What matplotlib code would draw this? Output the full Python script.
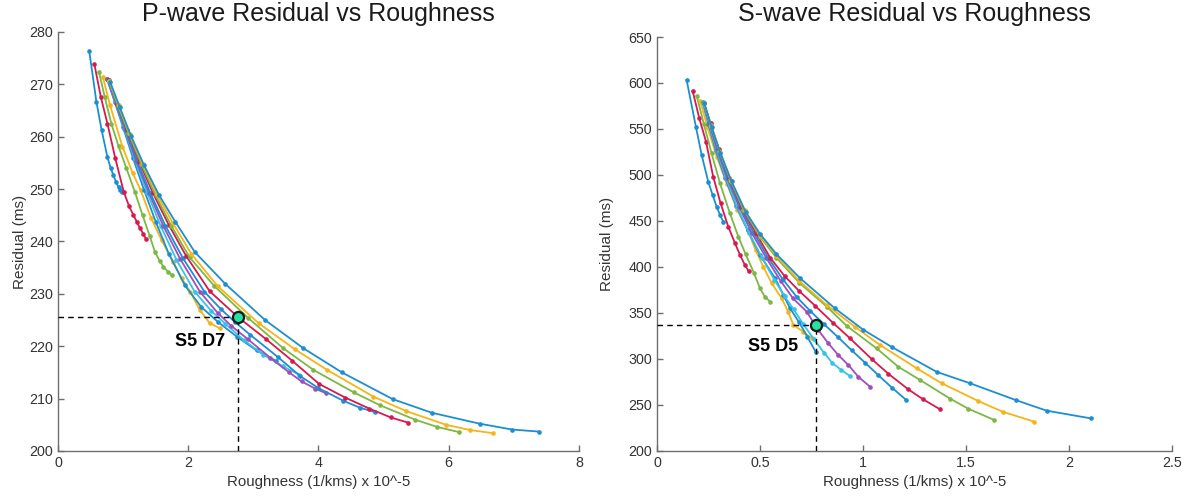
import matplotlib
matplotlib.use("Agg")
import matplotlib.pyplot as plt

plt.rcParams['font.family'] = ['Liberation Sans', 'DejaVu Sans']

curve_colors = ['#1b8fd2', '#d8194f', '#7cb843', '#f6b418', '#1b8fd2', '#36c3ea',
                '#a44cbc', '#1b8fd2', '#d8194f', '#7cb843', '#f6b418', '#1b8fd2']

# P-wave L-curves: roughness (x 10^-5) and residual (ms)
p_rough = [
    [0.48, 0.59, 0.67, 0.76, 0.81, 0.85, 0.89, 0.93, 0.96, 0.99],
    [0.56, 0.66, 0.76, 0.88, 1.01, 1.09, 1.16, 1.21, 1.26, 1.31, 1.35],
    [0.63, 0.72, 0.82, 0.93, 1.05, 1.18, 1.3, 1.41, 1.49, 1.56, 1.62, 1.69, 1.75],
    [0.69, 0.8, 0.99, 1.15, 1.27, 1.43, 1.59, 1.77, 1.9, 2.03, 2.18, 2.33, 2.49],
    [0.75, 0.87, 1.0, 1.15, 1.32, 1.5, 1.7, 1.95, 2.2, 2.46, 2.75, 3.05, 3.35],
    [0.76, 0.88, 1.02, 1.18, 1.37, 1.58, 1.82, 2.1, 2.35, 2.57, 2.85, 3.15, 3.45, 3.7],
    [0.76, 0.89, 1.03, 1.2, 1.4, 1.62, 1.88, 2.18, 2.45, 2.66, 2.92, 3.26, 3.55, 3.74, 3.95, 4.12],
    [0.77, 0.9, 1.04, 1.22, 1.42, 1.65, 1.92, 2.25, 2.5, 2.72, 2.95, 3.38, 3.72, 4.0, 4.38, 4.63, 4.87],
    [0.78, 0.91, 1.06, 1.25, 1.46, 1.7, 1.97, 2.33, 2.77, 3.2, 3.6, 4.01, 4.41, 4.78, 5.11, 5.38],
    [0.78, 0.92, 1.08, 1.28, 1.5, 1.74, 2.02, 2.4, 2.92, 3.46, 3.92, 4.54, 4.95, 5.48, 5.82, 6.16],
    [0.79, 0.93, 1.1, 1.3, 1.52, 1.76, 2.05, 2.45, 3.08, 3.64, 4.13, 4.84, 5.35, 5.96, 6.33, 6.68],
    [0.80, 0.95, 1.12, 1.32, 1.55, 1.8, 2.1, 2.57, 3.18, 3.77, 4.36, 5.14, 5.74, 6.48, 6.97, 7.39],
]
p_resid = [
    [276.4, 266.7, 261.3, 256.1, 254.0, 252.7, 251.4, 250.4, 249.8, 249.4],
    [273.8, 267.5, 262.5, 255.9, 249.5, 246.8, 245.0, 243.8, 242.5, 241.5, 240.5],
    [272.4, 267.5, 262.5, 258.2, 254.0, 249.5, 245.0, 241.0, 238.0, 236.3, 235.2, 234.2, 233.6],
    [271.4, 266.0, 258.1, 253.0, 249.8, 244.5, 240.3, 236.1, 233.0, 230.4, 226.9, 224.4, 223.4],
    [271.1, 266.7, 261.8, 256.0, 249.9, 243.8, 237.7, 231.6, 227.5, 224.6, 221.8, 219.2, 217.2],
    [271.0, 266.6, 261.5, 255.6, 249.3, 242.9, 236.5, 230.4, 226.8, 224.3, 221.2, 218.4, 216.2, 214.6],
    [271.0, 266.4, 261.4, 255.4, 249.2, 242.9, 236.6, 230.4, 226.4, 223.9, 221.3, 217.8, 215.0, 213.3, 211.9, 211.0],
    [270.9, 266.3, 261.3, 255.3, 249.2, 243.0, 236.8, 230.4, 227.1, 224.6, 222.2, 217.9, 214.3, 212.0, 209.6, 208.3, 207.4],
    [270.8, 266.3, 261.2, 255.2, 249.2, 243.2, 237.2, 230.5, 225.5, 221.3, 217.2, 212.8, 210.2, 208.1, 206.4, 205.4],
    [270.7, 266.0, 260.8, 254.8, 248.8, 243.0, 237.0, 231.5, 225.4, 219.6, 215.5, 211.2, 208.7, 206.0, 204.6, 203.6],
    [270.6, 266.0, 260.6, 254.8, 249.0, 243.6, 237.6, 231.5, 224.4, 219.4, 215.5, 210.4, 207.6, 205.0, 204.0, 203.4],
    [270.5, 265.6, 260.2, 254.6, 248.9, 243.8, 238.0, 231.9, 225.0, 219.6, 215.0, 209.9, 207.3, 205.2, 204.1, 203.7],
]

# S-wave L-curves
s_rough = [
    [0.144, 0.189, 0.217, 0.249, 0.27, 0.29, 0.306, 0.322],
    [0.173, 0.205, 0.238, 0.273, 0.309, 0.346, 0.379, 0.403, 0.427, 0.445],
    [0.193, 0.228, 0.265, 0.306, 0.354, 0.395, 0.43, 0.47, 0.5, 0.524, 0.549],
    [0.209, 0.245, 0.29, 0.34, 0.39, 0.44, 0.48, 0.516, 0.557, 0.605, 0.637, 0.662, 0.71, 0.751],
    [0.222, 0.25, 0.285, 0.33, 0.385, 0.44, 0.5, 0.573, 0.613, 0.646, 0.69, 0.73, 0.77],
    [0.224, 0.252, 0.288, 0.334, 0.39, 0.447, 0.51, 0.57, 0.62, 0.663, 0.71, 0.76, 0.81, 0.85, 0.895, 0.937],
    [0.226, 0.255, 0.292, 0.34, 0.4, 0.46, 0.53, 0.6, 0.66, 0.727, 0.783, 0.832, 0.88, 0.929, 0.977, 1.034],
    [0.227, 0.258, 0.296, 0.345, 0.405, 0.47, 0.54, 0.61, 0.68, 0.745, 0.81, 0.88, 0.945, 1.01, 1.074, 1.14, 1.21],
    [0.228, 0.26, 0.3, 0.35, 0.41, 0.48, 0.55, 0.62, 0.69, 0.767, 0.856, 0.937, 1.042, 1.123, 1.22, 1.293, 1.374],
    [0.228, 0.262, 0.303, 0.355, 0.42, 0.5, 0.58, 0.69, 0.824, 0.921, 1.066, 1.171, 1.277, 1.422, 1.511, 1.637],
    [0.229, 0.264, 0.306, 0.36, 0.425, 0.5, 0.58, 0.69, 0.824, 0.961, 1.083, 1.261, 1.382, 1.56, 1.678, 1.832],
    [0.23, 0.265, 0.308, 0.362, 0.43, 0.5, 0.58, 0.694, 0.864, 1.0, 1.14, 1.358, 1.52, 1.741, 1.892, 2.105],
]
s_resid = [
    [603.3, 552.5, 521.7, 492.7, 478.3, 465.5, 456.5, 449.2],
    [591.6, 562.0, 536.2, 498.2, 469.2, 443.8, 425.8, 413.0, 402.2, 395.5],
    [585.9, 555.0, 523.6, 491.0, 458.4, 433.0, 414.0, 394.0, 376.8, 367.7, 362.3],
    [580.8, 552.0, 520.0, 490.0, 462.0, 440.0, 418.0, 400.3, 382.3, 366.0, 351.4, 337.0, 329.7, 322.5],
    [579.0, 555.0, 527.0, 497.0, 466.0, 440.0, 413.0, 388.0, 370.0, 355.0, 340.0, 324.0, 308.0],
    [578.5, 556.0, 528.0, 497.0, 465.0, 437.0, 410.0, 386.0, 368.0, 354.0, 338.0, 322.0, 307.0, 296.0, 288.0, 281.5],
    [578.3, 556.0, 528.0, 497.0, 465.0, 437.0, 410.0, 385.0, 366.0, 351.4, 331.5, 317.0, 304.3, 293.5, 280.8, 269.9],
    [578.2, 556.0, 528.0, 497.0, 465.0, 437.0, 410.0, 387.0, 367.0, 352.0, 338.0, 323.5, 309.5, 296.0, 282.5, 269.0, 255.4],
    [578.1, 556.0, 528.0, 497.0, 465.0, 437.0, 410.0, 390.0, 374.0, 358.0, 339.0, 322.5, 300.0, 284.0, 267.0, 256.0, 245.3],
    [578.0, 554.0, 526.0, 495.0, 462.0, 433.0, 410.0, 383.0, 357.0, 336.0, 311.6, 291.6, 277.2, 257.0, 246.0, 233.7],
    [578.0, 553.0, 525.0, 494.0, 462.0, 434.5, 412.0, 385.0, 358.7, 335.0, 315.2, 289.9, 273.6, 254.3, 242.7, 231.8],
    [578.0, 552.0, 524.0, 493.0, 460.0, 436.0, 414.0, 388.0, 355.0, 332.0, 313.0, 286.0, 273.6, 255.4, 243.8, 235.5],
]

p_pick = (2.76, 225.5)
s_pick = (0.77, 337.0)
pick_labels = ['S5 D7', 'S5 D5']


def style_axis(ax):
    for side in ['top', 'right']:
        ax.spines[side].set_visible(False)
    for side in ['left', 'bottom']:
        ax.spines[side].set_color('#6e6e6e')
        ax.spines[side].set_linewidth(1.0)
    ax.tick_params(direction='in', length=4, width=1.0, colors='#6e6e6e',
                   labelcolor='#333333', labelsize=10.3)


fig = plt.figure(figsize=(11.85, 4.98), dpi=100)
ax1 = fig.add_axes([0.0489, 0.0944, 0.4397, 0.8414])
ax2 = fig.add_axes([0.5544, 0.0944, 0.4346, 0.8313])

for ax, xs, ys in [(ax1, p_rough, p_resid), (ax2, s_rough, s_resid)]:
    for c, x, y in zip(curve_colors, xs, ys):
        ax.plot(x, y, '-', color=c, lw=1.3, marker='o', ms=2.3, mec=c, mfc=c)

# pick markers with dashed guides
for ax, (px, py) in [(ax1, p_pick), (ax2, s_pick)]:
    ax.plot([0, px], [py, py], color='black', lw=1.0, dashes=(4, 3), zorder=4)
    ax.plot([px, px], [200, py], color='black', lw=1.0, dashes=(4, 3), zorder=4)
    ax.plot(px, py, 'o', ms=8, mfc='#25e3a3', mec='#1a1a1a', mew=1.6, zorder=6)

ax1.text(2.57, 220.9, pick_labels[0], ha='right', va='center', fontsize=13, fontweight='bold')
ax2.text(0.685, 314.0, pick_labels[1], ha='right', va='center', fontsize=13, fontweight='bold')

ax1.set_xlim(0, 8)
ax1.set_ylim(200, 280)
ax1.set_xticks([0, 2, 4, 6, 8])
ax1.set_yticks(range(200, 281, 10))
ax2.set_xlim(0, 2.5)
ax2.set_ylim(200, 650)
ax2.set_xticks([0, 0.5, 1, 1.5, 2, 2.5])
ax2.set_xticklabels(['0', '0.5', '1', '1.5', '2', '2.5'])
ax2.set_yticks(range(200, 651, 50))

for ax, ylx in [(ax1, -0.06), (ax2, -0.083)]:
    style_axis(ax)
    ax.set_xlabel('Roughness (1/kms) x 10^-5', fontsize=10.8, color='#333333', labelpad=4)
    ax.set_ylabel('Residual (ms)', fontsize=11, color='#333333')
    ax.yaxis.set_label_coords(ylx, 0.5)

fig.text(0.2684, 0.972, 'P-wave Residual vs Roughness', ha='center', va='center',
         fontsize=18, color='#1a1a1a')
fig.text(0.7717, 0.972, 'S-wave Residual vs Roughness', ha='center', va='center',
         fontsize=18, color='#1a1a1a')

fig.savefig('out.png', dpi=100)
